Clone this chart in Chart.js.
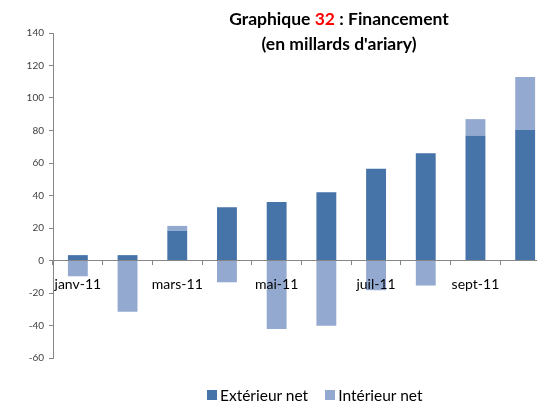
<!DOCTYPE html>
<html>
<head>
<meta charset="utf-8">
<script src="https://cdn.jsdelivr.net/npm/chart.js@4.4.0/dist/chart.umd.min.js"></script>
<style>
  html, body { margin: 0; padding: 0; background: #fff; }
  #wrap { position: relative; width: 537px; height: 404px; overflow: hidden; }
  #chart { position: absolute; left: 0; top: 0; }
  #title { position: absolute; left: 0; top: 6px; width: 678px; text-align: center;
           font-family: Lato, sans-serif; font-weight: bold; font-size: 17.5px; line-height: 25px; color: #000; }
  #title .num { color: #ff0000; }
  #legend { position: absolute; left: 207px; top: 386px; display: flex; align-items: center;
            font-family: Lato, sans-serif; font-size: 15.5px; color: #000; }
  #legend span.box { display: inline-block; width: 10px; height: 10px; margin-right: 3px; }
  #legend span.item { display: inline-flex; align-items: center; margin-right: 17px; }
</style>
</head>
<body>
<div id="wrap">
  <canvas id="chart" width="560" height="404"></canvas>
  <div id="title">Graphique <span class="num">32</span> : Financement<br>(en millards d'ariary)</div>
  <div id="legend"></div>
</div>
<script>
// months (the picture is cut off after oct-11)
const months = ['janv-11', 'févr-11', 'mars-11', 'avr-11', 'mai-11', 'juin-11',
                'juil-11', 'août-11', 'sept-11', 'oct-11'];
const exterieurNet = [3.3, 3.3, 18.3, 32.7, 36, 42, 56.5, 66, 77, 80.5];
const interieurNet = [-9.7, -31.5, 3, -13.4, -42.2, -40.1, -18.3, -15.4, 10, 32.5];
const yTicks = [-60, -40, -20, 0, 20, 40, 60, 80, 100, 120, 140];

const seriesNames = ['Extérieur net', 'Intérieur net'];
const seriesColors = ['#4673a8', '#93a9cf'];
const axisColor = '#868686';

// html legend
const legendEl = document.getElementById('legend');
seriesNames.forEach((name, i) => {
  const item = document.createElement('span');
  item.className = 'item';
  item.innerHTML = '<span class="box" style="background:' + seriesColors[i] + '"></span>' + name;
  legendEl.appendChild(item);
});

new Chart(document.getElementById('chart'), {
  type: 'bar',
  data: {
    labels: months,
    datasets: [
      { label: seriesNames[0], data: exterieurNet, backgroundColor: seriesColors[0], borderWidth: 0 },
      { label: seriesNames[1], data: interieurNet, backgroundColor: seriesColors[1], borderWidth: 0 }
    ]
  },
  options: {
    responsive: false,
    animation: false,
    layout: { padding: { top: 33, right: 10, bottom: 46, left: 0 } },
    datasets: { bar: { categoryPercentage: 1, barPercentage: 0.4 } },
    plugins: {
      legend: { display: false },
      title: { display: false },
      tooltip: { enabled: false }
    },
    scales: {
      x: {
        stacked: true,
        position: { y: 0 },
        grid: { offset: true, drawOnChartArea: false, drawTicks: true, tickLength: 4, color: axisColor },
        border: { color: axisColor, width: 1 },
        ticks: {
          z: 1, // labels sit on top of the bars, like in the original
          autoSkip: false, maxRotation: 0, padding: 12,
          color: '#000', font: { family: 'Lato', size: 14 },
          callback: (v, i) => (i % 2 === 0 ? months[i] : '')
        }
      },
      y: {
        stacked: true,
        min: yTicks[0],
        max: yTicks[yTicks.length - 1],
        afterFit: (s) => { s.width = 53; },
        afterBuildTicks: (s) => { s.ticks = yTicks.map(v => ({ value: v })); },
        grid: { drawOnChartArea: false, drawTicks: true, tickLength: 4, color: axisColor },
        border: { color: axisColor, width: 1 },
        ticks: { padding: 5, color: '#404040', font: { family: 'Lato', size: 10 } }
      }
    }
  }
});
</script>
</body>
</html>
